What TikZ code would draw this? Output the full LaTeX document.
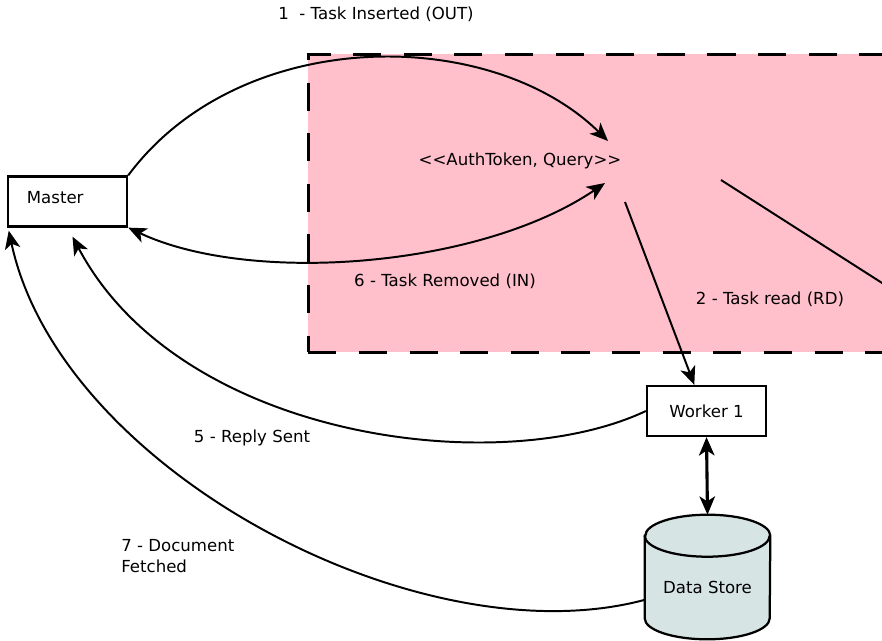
\documentclass[tikz,border=0pt]{standalone}
\usepackage{fontspec}
\setmainfont{DejaVu Sans}
\usetikzlibrary{arrows.meta,calc}

\definecolor{spacepink}{RGB}{255,191,203}
\definecolor{storefill}{RGB}{215,228,228}

\tikzset{
	box/.style={draw, line width=1.6pt, rectangle, minimum width=2.975cm, minimum height=1.25cm},
	lbl/.style={inner sep=0pt},
	flow/.style={line width=1.4pt},
}

\begin{document}
\begin{tikzpicture}[x=0.025cm, y=-0.025cm, font=\fontsize{11.8}{14.5}\selectfont,
		>={Stealth[length=13pt, width=11pt, inset=3.5pt]}]
				\clip (0,0) rectangle (882,640);
				% tuple space
				\node[draw, line width=1.8pt, dash pattern=on 20pt off 16pt, fill=spacepink, rectangle, minimum width=14.9cm, minimum height=7.45cm, anchor=north west] (space)at(307, 53) {};
				\node[lbl] (tuple)at(520, 161) {<{}<AuthToken, Query>{}>};
				% processes
				\node[box, text width=2.03cm, inner xsep=0.475cm, text depth=5.6pt, align=left] (master)at(67.5, 201.5) {Master};
				\node[box] (worker)at(706.5, 411) {Worker 1};
				% data store (cylinder)
				\node[inner sep=0pt, minimum width=3.125cm, minimum height=3.1cm] (store)at(707.5, 577) {};
				\draw[line width=1.6pt, fill=storefill] ($(store.north west)+(0, 21)$) -- ($(store.south west)+(0, -21)$) arc[start angle=180, end angle=0, x radius=62.5, y radius=21] -- ($(store.north east)+(0, 21)$) arc[start angle=0, end angle=-180, x radius=62.5, y radius=21] -- cycle;
				\draw[line width=1.6pt] ($(store.north west)+(0, 21)$) arc[start angle=180, end angle=0, x radius=62.5, y radius=21];
				\node[lbl] (storename)at($(store.center)+(0, 10)$) {Data Store};
				\coordinate (other)at(940, 320);
				% labels
				\node[lbl] (out)at(376, 14) {1\ \ - Task Inserted (OUT)};
				\node[lbl] (rd)at(770, 299) {2 - Task read (RD)};
				\node[lbl] (reply)at(252, 438) {5 - Reply Sent};
				\node[lbl] (in)at(445, 281) {6 - Task Removed (IN)};
				\node[lbl, anchor=west, align=left] (fetch)at(121, 556) {7 - Document\\Fetched};
				% connectors
				\draw[->, flow] (master.north east) .. controls (240, 25) and (490, 25) .. ($(tuple)+(88, -20)$);
				\draw[<->, flow] (master.south east) .. controls (250, 285) and (480, 268) .. ($(tuple)+(85, 22)$);
				\draw[->, flow] ($(tuple)+(105, 41)$) -- (worker.115);
				\draw[flow] ($(tuple)+(201, 19)$) -- (other);
				\draw[->, flow] (worker.west) .. controls (500, 480) and (180, 440) .. ($(master.south)+(5, 9)$);
				\draw[->, flow] (store.200) .. controls (420, 660) and (60, 470) .. ($(master.south west)+(2, 3)$);
				\draw[<->, line width=2.2pt] (worker.south) -- (store.north);
			\end{tikzpicture}
\end{document}
